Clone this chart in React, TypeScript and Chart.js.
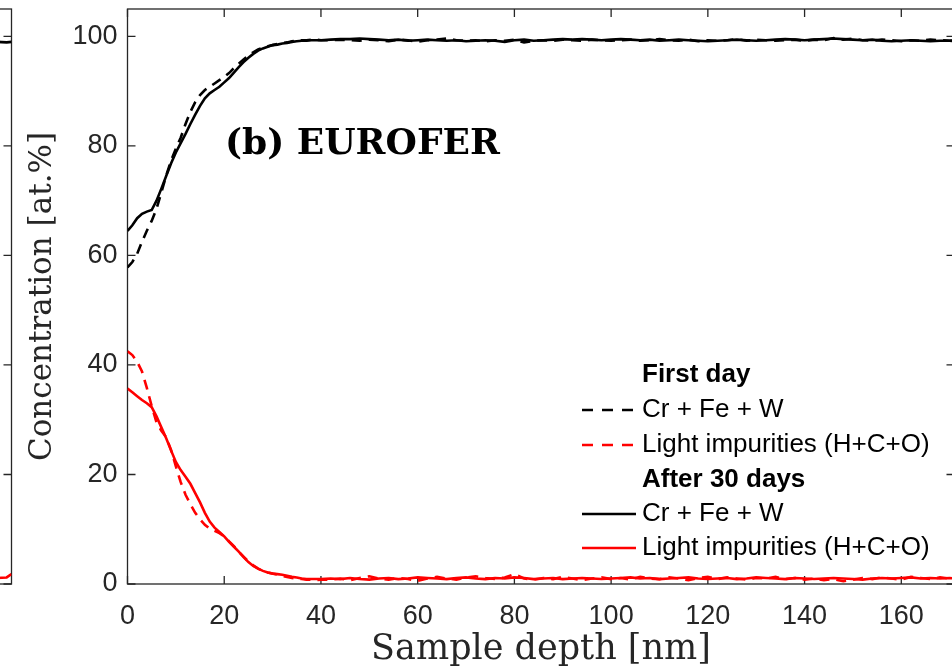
import React, { useEffect, useRef } from "react";
import { Chart, registerables } from "chart.js";
Chart.register(...registerables);

// ---------- data ----------
const depthNm = [
  0, 1, 2, 3, 4, 5, 6, 7, 8, 9, 10, 11, 12, 13, 14, 15, 16, 17, 18, 19, 20,
  21, 22, 23, 24, 25, 26, 27, 28, 29, 30, 31, 32, 33, 34, 35, 36, 37, 38, 39, 40,
  42, 44, 46, 48, 50, 52, 54, 56, 58, 60,
  62, 64, 66, 68, 70, 72, 74, 76, 78, 80,
  82, 84, 86, 88, 90, 92, 94, 96, 98, 100,
  102, 104, 106, 108, 110, 112, 114, 116, 118, 120,
  122, 124, 126, 128, 130, 132, 134, 136, 138, 140,
  142, 144, 146, 148, 150, 152, 154, 156, 158, 160,
  162, 164, 166, 168, 170, 171,
];

const firstDayMetals = [
  57.8, 58.8, 60.3, 62.5, 64.5, 66.3, 68.5, 71.5, 74.6, 77.3, 79.5,
  81.5, 84.0, 86.2, 88.0, 89.3, 90.2, 90.8, 91.4, 92.0, 92.6,
  93.3, 94.2, 95.0, 95.8, 96.5, 97.1, 97.6, 97.9, 98.2, 98.4,
  98.6, 98.8, 98.9, 99.1, 99.2, 99.3, 99.3, 99.4, 99.4, 99.3,
  99.3, 99.4, 99.3, 99.2, 99.4, 99.3, 99.1, 99.4, 99.3, 99.0,
  99.3, 99.4, 99.6, 99.3, 99.2, 99.3, 99.1, 99.3, 99.2, 99.4,
  98.9, 99.2, 99.3, 99.2, 99.4, 99.3, 99.2, 99.4, 99.3, 99.2,
  99.3, 99.4, 99.2, 99.3, 99.5, 99.3, 99.2, 99.4, 99.1, 99.3,
  99.2, 99.3, 99.5, 99.2, 99.4, 99.3, 99.2, 99.3, 99.4, 99.2,
  99.4, 99.3, 99.7, 99.4, 99.6, 99.3, 99.2, 99.4, 99.3, 99.1,
  99.3, 99.2, 99.4, 99.3, 99.2, 99.3,
];

const firstDayLight = [
  42.5, 41.8, 40.6, 38.8, 35.8, 32.5, 29.5, 28.0, 26.8, 24.5, 21.5,
  18.6, 16.3, 14.6, 13.0, 11.8, 10.8, 10.1, 9.7, 9.3, 8.7,
  7.8, 6.9, 5.9, 5.0, 4.1, 3.4, 2.8, 2.4, 2.1, 1.9,
  1.7, 1.5, 1.3, 1.1, 1.0, 0.9, 0.8, 0.8, 0.7, 0.8,
  0.8, 1.0, 0.7, 1.1, 1.4, 1.0, 0.8, 1.1, 0.9, 0.6,
  1.0, 1.3, 1.0, 0.8, 1.2, 1.4, 1.1, 0.9, 1.2, 1.8,
  1.0, 0.8, 1.1, 0.9, 1.3, 1.0, 0.7, 1.0, 1.2, 0.9,
  1.1, 0.8, 1.3, 1.0, 0.9, 1.2, 1.0, 0.7, 1.1, 1.3,
  0.9, 1.2, 1.0, 0.8, 1.1, 1.0, 1.3, 0.9, 1.1, 0.8,
  1.0, 0.7, 0.9, 0.5, 0.8, 1.1, 0.9, 1.2, 1.0, 0.8,
  1.3, 1.1, 0.9, 1.2, 1.0, 1.1,
];

const after30Metals = [
  64.5, 65.5, 66.8, 67.6, 68.0, 68.3, 70.0, 72.2, 74.5, 76.8, 78.8,
  80.5, 82.2, 84.0, 85.7, 87.3, 88.7, 89.6, 90.2, 90.8, 91.6,
  92.4, 93.4, 94.4, 95.3, 96.1, 96.8, 97.4, 97.8, 98.1, 98.4,
  98.5, 98.7, 98.8, 99.0, 99.1, 99.2, 99.2, 99.3, 99.3, 99.3,
  99.4, 99.5, 99.5, 99.6, 99.5, 99.4, 99.3, 99.4, 99.2, 99.3,
  99.4, 99.3, 99.2, 99.3, 99.1, 99.2, 99.3, 99.2, 99.0, 99.3,
  99.4, 99.2, 99.3, 99.4, 99.5, 99.4, 99.5, 99.4, 99.3, 99.4,
  99.5, 99.4, 99.3, 99.4, 99.2, 99.3, 99.4, 99.3, 99.2, 99.1,
  99.2, 99.3, 99.4, 99.3, 99.2, 99.3, 99.4, 99.5, 99.4, 99.3,
  99.4, 99.5, 99.6, 99.5, 99.4, 99.3, 99.4, 99.2, 99.1, 99.2,
  99.3, 99.2, 99.1, 99.2, 99.2, 99.1,
];

const after30Light = [
  35.7, 35.0, 34.3, 33.6, 33.0, 32.3, 30.6, 28.6, 26.6, 24.4, 22.3,
  20.8, 19.6, 18.3, 16.6, 14.9, 13.0, 11.4, 10.3, 9.5, 8.7,
  7.7, 6.8, 5.9, 4.9, 4.0, 3.3, 2.8, 2.4, 2.1, 1.9,
  1.8, 1.7, 1.5, 1.3, 1.2, 1.0, 0.9, 0.9, 0.9, 0.9,
  1.0, 0.9, 1.1, 0.9, 0.8, 1.0, 1.1, 0.9, 1.0, 1.2,
  1.1, 1.0, 0.9, 1.1, 1.2, 1.0, 0.9, 1.1, 1.0, 1.2,
  1.1, 0.9, 1.0, 1.1, 0.9, 1.0, 1.1, 1.0, 0.9, 1.0,
  1.1, 1.2, 1.0, 1.1, 0.9, 1.0, 1.1, 1.2, 1.0, 0.9,
  1.0, 1.1, 0.9, 1.0, 1.2, 1.1, 1.0, 0.9, 1.1, 1.0,
  0.9, 1.0, 1.1, 1.0, 0.9, 0.8, 1.0, 1.1, 1.0, 1.1,
  1.2, 1.0, 1.1, 1.0, 1.1, 1.0,
];

// neighbouring panel (a), only its right edge is visible
const panelADepth = [160, 162, 164, 166, 168, 170, 171];
const panelAMetals = [99.2, 99.1, 99.3, 99.1, 99.0, 98.9, 99.0];
const panelALight = [1.0, 1.1, 0.9, 1.0, 1.1, 1.2, 1.8];

const xTickValues = [0, 20, 40, 60, 80, 100, 120, 140, 160];
const yTickValues = [0, 20, 40, 60, 80, 100];
const xRange = [0, 171];
const yRange = [0, 105];

const groupTitles = ["First day", "After 30 days"];
const seriesLabels = ["Cr + Fe + W", "Light impurities (H+C+O)"];
const panelTitle = "(b) EUROFER";
const xTitle = "Sample depth [nm]";
const yTitle = "Concentration [at.%]";

// ---------- styling ----------
const AXIS = "#262626";
const BLACK = "#000000";
const RED = "#ff0000";
const DASH = [10, 7];
const LW = 2.6;
const TICK_LEN = 8;
const CANVAS_W = 962;
const CANVAS_H = 671;
const PLOT_TOP = 9;
const PLOT_BOTTOM = 584;
const PLOT_LEFT = 127.5;
const PLOT_RIGHT = 954.5;

const pts = (xs: number[], ys: number[]) => xs.map((x, i) => ({ x, y: ys[i] }));

const frameTicks = {
  id: "frameTicks",
  beforeDatasetsDraw(chart: any) {
    const { ctx, chartArea } = chart;
    const { left, right, top, bottom } = chartArea;
    const xs = chart.scales.x;
    const ys = chart.scales.y;
    ctx.save();
    ctx.strokeStyle = AXIS;
    ctx.lineWidth = 1.3;
    ctx.strokeRect(left, top, right - left, bottom - top);
    ctx.beginPath();
    xs.ticks.forEach((t: any) => {
      const px = xs.getPixelForValue(t.value);
      ctx.moveTo(px, bottom);
      ctx.lineTo(px, bottom - TICK_LEN);
      ctx.moveTo(px, top);
      ctx.lineTo(px, top + TICK_LEN);
    });
    ys.ticks.forEach((t: any) => {
      const py = ys.getPixelForValue(t.value);
      ctx.moveTo(left, py);
      ctx.lineTo(left + TICK_LEN, py);
      ctx.moveTo(right, py);
      ctx.lineTo(right - TICK_LEN, py);
    });
    ctx.stroke();
    ctx.restore();
  },
};

const legendAndLabel = {
  id: "legendAndLabel",
  afterDraw(chart: any) {
    const { ctx } = chart;
    const ds = chart.data.datasets;
    ctx.save();
    // panel annotation
    ctx.fillStyle = "#000";
    ctx.font = 'bold 36px "DejaVu Serif"';
    ctx.textAlign = "left";
    ctx.textBaseline = "alphabetic";
    ctx.fillText(panelTitle, 225, 154);

    // legend
    const lineX0 = 582;
    const lineX1 = 636;
    const textX = 642;
    const rows: any[] = [
      { head: groupTitles[0], y: 375 },
      { ds: 0, text: seriesLabels[0], y: 410 },
      { ds: 1, text: seriesLabels[1], y: 445 },
      { head: groupTitles[1], y: 480 },
      { ds: 2, text: seriesLabels[0], y: 514 },
      { ds: 3, text: seriesLabels[1], y: 548 },
    ];
    ctx.textBaseline = "middle";
    rows.forEach((r) => {
      if (r.head) {
        ctx.font = 'bold 26px "Liberation Sans"';
        ctx.fillStyle = "#000";
        ctx.fillText(r.head, textX, r.y);
      } else {
        const d = ds[r.ds];
        ctx.strokeStyle = d.borderColor;
        ctx.lineWidth = d.borderWidth;
        ctx.setLineDash(d.borderDash && d.borderDash.length ? [11, 9] : []);
        ctx.beginPath();
        ctx.moveTo(lineX0, r.y);
        ctx.lineTo(lineX1, r.y);
        ctx.stroke();
        ctx.setLineDash([]);
        ctx.font = '26px "Liberation Sans"';
        ctx.fillStyle = "#000";
        ctx.fillText(r.text, textX, r.y);
      }
    });
    ctx.restore();
  },
};

function makeConfig(datasets: any[], extraPlugins: any[], showTitles: boolean) {
  return {
    type: "line",
    data: { datasets },
    options: {
      animation: false,
      responsive: false,
      devicePixelRatio: 1,
      layout: { padding: { left: 0, right: CANVAS_W - PLOT_RIGHT, top: PLOT_TOP, bottom: 0 } },
      plugins: { legend: { display: false }, tooltip: { enabled: false } },
      elements: { point: { radius: 0 }, line: { tension: 0 } },
      scales: {
        x: {
          type: "linear",
          min: xRange[0],
          max: xRange[1],
          afterBuildTicks: (s: any) => {
            s.ticks = xTickValues.map((v) => ({ value: v }));
          },
          afterFit: (s: any) => {
            s.height = CANVAS_H - PLOT_BOTTOM;
            s.paddingLeft = 0;
            s.paddingRight = 0;
          },
          grid: { display: false, drawTicks: false },
          border: { display: false },
          ticks: {
            padding: 16,
            maxRotation: 0,
            autoSkip: false,
            color: AXIS,
            font: { family: "Liberation Sans", size: 27 },
          },
          title: {
            display: showTitles,
            text: xTitle,
            color: AXIS,
            font: { family: "DejaVu Serif", size: 35 },
            padding: { top: 0, bottom: 0 },
          },
        },
        y: {
          type: "linear",
          min: yRange[0],
          max: yRange[1],
          afterBuildTicks: (s: any) => {
            s.ticks = yTickValues.map((v) => ({ value: v }));
          },
          afterFit: (s: any) => {
            s.width = PLOT_LEFT;
            s.paddingTop = 0;
            s.paddingBottom = 0;
          },
          grid: { display: false, drawTicks: false },
          border: { display: false },
          ticks: {
            padding: 10,
            autoSkip: false,
            color: AXIS,
            font: { family: "Liberation Sans", size: 27 },
          },
          title: {
            display: showTitles,
            text: yTitle,
            color: AXIS,
            font: { family: "DejaVu Serif", size: 31 },
            padding: { top: 24, bottom: 0 },
          },
        },
      },
    },
    plugins: [frameTicks, ...extraPlugins],
  } as any;
}

export default function App() {
  const refA = useRef<HTMLCanvasElement | null>(null);
  const refB = useRef<HTMLCanvasElement | null>(null);

  useEffect(() => {
    const line = (data: any, color: string, dashed: boolean) => ({
      data,
      borderColor: color,
      backgroundColor: color,
      borderWidth: LW,
      borderDash: dashed ? DASH : [],
      pointRadius: 0,
      fill: false,
    });

    const chartB = new Chart(
      refB.current as HTMLCanvasElement,
      makeConfig(
        [
          { label: "First day – " + seriesLabels[0], ...line(pts(depthNm, firstDayMetals), BLACK, true) },
          { label: "First day – " + seriesLabels[1], ...line(pts(depthNm, firstDayLight), RED, true) },
          { label: "After 30 days – " + seriesLabels[0], ...line(pts(depthNm, after30Metals), BLACK, false) },
          { label: "After 30 days – " + seriesLabels[1], ...line(pts(depthNm, after30Light), RED, false) },
        ],
        [legendAndLabel],
        true
      )
    );

    const chartA = new Chart(
      refA.current as HTMLCanvasElement,
      makeConfig(
        [
          { label: "Panel a metals", ...line(pts(panelADepth, panelAMetals), BLACK, false) },
          { label: "Panel a light", ...line(pts(panelADepth, panelALight), RED, false) },
        ],
        [],
        false
      )
    );

    return () => {
      chartB.destroy();
      chartA.destroy();
    };
  }, []);

  return (
    <div
      style={{
        position: "fixed",
        left: 0,
        top: 0,
        width: 952,
        height: 671,
        overflow: "hidden",
        background: "#ffffff",
      }}
    >
      <canvas
        ref={refA}
        width={CANVAS_W}
        height={CANVAS_H}
        style={{ position: "absolute", left: -943, top: 0, width: CANVAS_W, height: CANVAS_H }}
      />
      <canvas
        ref={refB}
        width={CANVAS_W}
        height={CANVAS_H}
        style={{ position: "absolute", left: 0, top: 0, width: CANVAS_W, height: CANVAS_H }}
      />
    </div>
  );
}
